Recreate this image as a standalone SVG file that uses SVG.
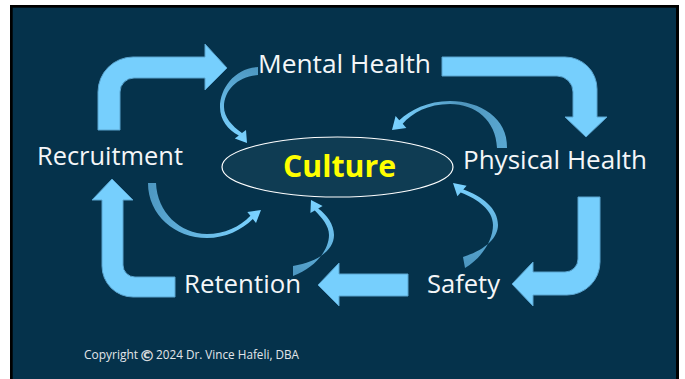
<svg xmlns="http://www.w3.org/2000/svg" width="685" height="379" viewBox="0 0 685 379">
  <style>
    .lbl { font-family: "Open Sans", "Noto Sans", "DejaVu Sans", sans-serif; font-size: 25px; fill: #f4f6f8; }
    .big { fill: #76cffd; stroke: #5aa4cf; stroke-width: 1; stroke-linejoin: miter; }
    .copy { font-family: "Open Sans", "Noto Sans", sans-serif; font-size: 12px; fill: #e2e6ea; }
  </style>
  <defs>
    <linearGradient id="g1" gradientUnits="userSpaceOnUse" x1="258" y1="70" x2="245" y2="140">
      <stop offset="0" stop-color="#4e98c2"/><stop offset="1" stop-color="#7ad2ff"/>
    </linearGradient>
    <linearGradient id="g2" gradientUnits="userSpaceOnUse" x1="505" y1="148" x2="395" y2="125">
      <stop offset="0" stop-color="#5aa8d2"/><stop offset="0.45" stop-color="#4e95bd"/><stop offset="1" stop-color="#7ad2ff"/>
    </linearGradient>
    <linearGradient id="g3" gradientUnits="userSpaceOnUse" x1="152" y1="183" x2="258" y2="212">
      <stop offset="0" stop-color="#4e98c2"/><stop offset="1" stop-color="#7ad2ff"/>
    </linearGradient>
    <linearGradient id="g4" gradientUnits="userSpaceOnUse" x1="293" y1="271" x2="313" y2="202">
      <stop offset="0" stop-color="#4e98c2"/><stop offset="1" stop-color="#7ad2ff"/>
    </linearGradient>
    <linearGradient id="g5" gradientUnits="userSpaceOnUse" x1="464" y1="262" x2="456" y2="185">
      <stop offset="0" stop-color="#4e98c2"/><stop offset="1" stop-color="#7ad2ff"/>
    </linearGradient>
  </defs>

  <rect x="0" y="0" width="685" height="379" fill="#ffffff"/>
  <rect x="10" y="5" width="669" height="374" fill="#000000"/>
  <rect x="12.7" y="7.7" width="663.3" height="371.3" fill="#05324b"/>

  <g id="connectors">
    <!-- Recruitment -> Mental Health -->
    <path class="big" d="M98,130 V92 A35 35 0 0 1 133,57 H205 V44 L227,68 L205,90 V78 H134 A14 14 0 0 0 120,92 V130 Z"/>
    <!-- Mental Health -> Physical Health -->
    <path class="big" d="M442,57 H565 A32 32 0 0 1 597,89 V117 H607 L586,137 L565,117 H573 V92 A16 16 0 0 0 557,76 H442 Z"/>
    <!-- Physical Health -> Safety -->
    <path class="big" d="M578,197 H600 V262 A33 33 0 0 1 567,295 H533 V306 L512,284 L533,262 V272 H565 A13 13 0 0 0 578,259 Z"/>
    <!-- Safety -> Retention -->
    <path class="big" d="M408,274 V296 H339 V306 L318,285 L339,263 V274 Z"/>
    <!-- Retention -> Recruitment -->
    <path class="big" d="M175,277 V297 H133 A31 31 0 0 1 102,266 V200 H92 L112,179 L133,200 H123 V265 A12 12 0 0 0 135,277 Z"/>

    <!-- curved arrows into Culture -->
    <path fill="url(#g1)" d="M258,67 C235,68 220,88 220,107 C220,120 228,130 238.8,135.4 L234.8,138.4 L247,143 L246,130 L242,133 C232,126 224,117 224,107 C224,90 238,76 258,75 Z"/>
    <path fill="url(#g2)" d="M507,148 C508,118 480,101 450,101 C428,101 410,110 399.3,120.2 L395.6,116.1 L392,130 L406.4,127.9 L402.7,123.8 C412,113 428,104 450,104 C475,104 496,120 497,148 Z"/>
    <path fill="url(#g3)" d="M148,183 C148,215 175,238 207,238 C225,238 242,230 252.8,219 L256,222.9 L261,210 L247.3,212 L250.4,215.8 C240,227 224,234 207,234 C180,234 157,212 156,183 Z"/>
    <path fill="url(#g4)" d="M293,266 C318,262 334,250 334,235 C334,225 327,215 318.2,208.6 L322.6,206.1 L311,200 L310.4,213.1 L314.8,210.6 C322,218 329,226 329,235 C329,250 315,268 293,276 Z"/>
    <path fill="url(#g5)" d="M463,257 C485,250 498,238 498,225 C498,208 482,196 463.3,189.4 L466.6,185.7 L453,183 L457.4,196.2 L460.7,192.4 C478,199 493,210 493,225 C493,240 482,258 465,268 Z"/>
  </g>

  <g id="culture">
    <ellipse cx="337.5" cy="167" rx="115.5" ry="30" fill="#0f3c53" stroke="#ffffff" stroke-width="1.2"/>
    <text x="283" y="177" textLength="113" lengthAdjust="spacingAndGlyphs" font-family="'Open Sans', 'Noto Sans', sans-serif" font-weight="bold" font-size="31" fill="#ffff00">Culture</text>
  </g>
  <g id="mental-health">
    <text class="lbl" x="258" y="73" textLength="173" lengthAdjust="spacingAndGlyphs">Mental Health</text>
  </g>
  <g id="physical-health">
    <text class="lbl" x="463" y="169" textLength="184" lengthAdjust="spacingAndGlyphs">Physical Health</text>
  </g>
  <g id="safety">
    <text class="lbl" x="427" y="293" textLength="73" lengthAdjust="spacingAndGlyphs">Safety</text>
  </g>
  <g id="retention">
    <text class="lbl" x="184" y="293" textLength="117" lengthAdjust="spacingAndGlyphs">Retention</text>
  </g>
  <g id="recruitment">
    <text class="lbl" x="37" y="165" textLength="146" lengthAdjust="spacingAndGlyphs">Recruitment</text>
  </g>
  <g id="copyright">
    <text class="copy" x="84" y="359" textLength="54" lengthAdjust="spacingAndGlyphs">Copyright</text>
    <text x="147" y="361" text-anchor="middle" font-family="'DejaVu Sans', sans-serif" font-size="16" font-weight="bold" fill="#d6d9dc">©</text>
    <text class="copy" x="156" y="359" textLength="143" lengthAdjust="spacingAndGlyphs">2024 Dr. Vince Hafeli, DBA</text>
  </g>
</svg>
